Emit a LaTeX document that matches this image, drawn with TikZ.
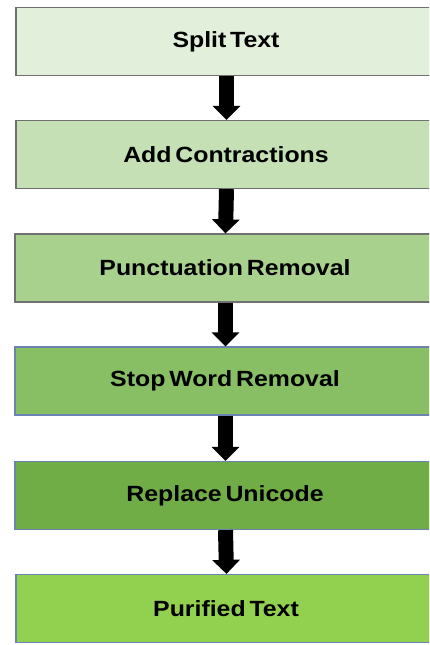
\documentclass[tikz,border=0pt]{standalone}
\usepackage{fontspec}
\setmainfont{Liberation Sans}[FakeStretch=1.13,WordSpace=0.55]
\usepackage{tikz}
\usetikzlibrary{arrows.meta}

\definecolor{stageA}{HTML}{E2EFDA}
\definecolor{stageB}{HTML}{C5E0B4}
\definecolor{stageC}{HTML}{A9D18E}
\definecolor{stageD}{HTML}{88BF65}
\definecolor{stageE}{HTML}{70AD47}
\definecolor{stageF}{HTML}{92D050}
\definecolor{greyline}{HTML}{707070}
\definecolor{blueline}{HTML}{6C82B5}

\begin{document}
\begin{tikzpicture}[x=1pt,y=-1pt]
  \tikzset{stage/.style = {shape=rectangle,draw=greyline,line width=1.2pt,minimum width=420pt,minimum height=68pt,inner sep=0pt,font=\fontsize{22}{26}\selectfont\bfseries}}
  \tikzset{bluestage/.style = {stage,draw=blueline}}
  \tikzset{flow/.style = {line width=15pt,-{Triangle[length=14pt,width=27pt]}}}

  \useasboundingbox (0,0) rectangle (429,645);
  \clip (0,0) rectangle (429,645);

	\node[stage,fill=stageA] (ST) at (226,41.5) {Split Text};
	\node[stage,fill=stageB] (AC) at (226,154.5) {Add Contractions};
	\node[stage,fill=stageC] (PR) at (225,268) {Punctuation Removal};
	\node[bluestage,fill=stageD] (SW) at (225,381) {Stop Word Removal};
	\node[bluestage,fill=stageE] (RU) at (225,495.5) {Replace Unicode};
	\node[bluestage,fill=stageF] (PT) at (226,608.5) {Purified Text};

    \foreach \from/\to in {ST/AC, AC/PR, PR/SW, SW/RU, RU/PT}
    \draw[flow] ([xshift=0.5pt]\from.south) -- ([xshift=0.5pt]\to.north);

\end{tikzpicture}
\end{document}
